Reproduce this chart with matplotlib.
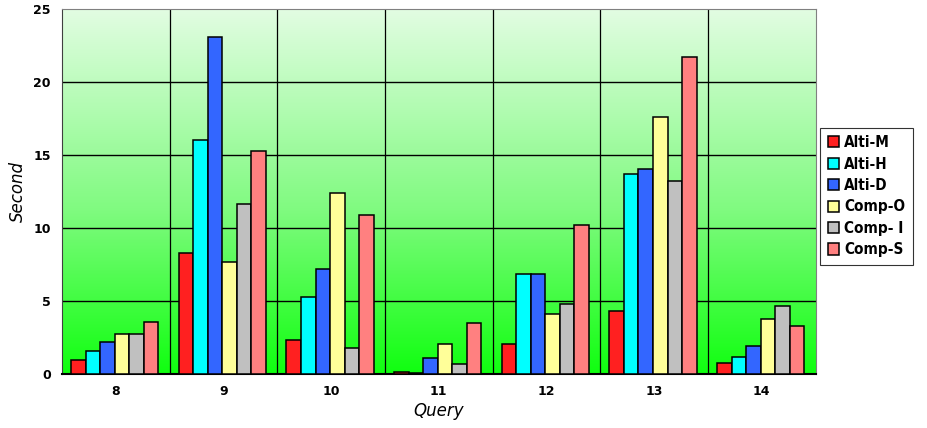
import numpy as np
import matplotlib.pyplot as plt
from matplotlib.colors import LinearSegmentedColormap

queries = ["8", "9", "10", "11", "12", "13", "14"]
series = ["Alti-M", "Alti-H", "Alti-D", "Comp-O", "Comp- I", "Comp-S"]

alti_m = [0.96, 8.28, 2.31, 0.16, 2.03, 4.30, 0.73]
alti_h = [1.55, 16.07, 5.30, 0.10, 6.88, 13.72, 1.17]
alti_d = [2.19, 23.11, 7.20, 1.07, 6.88, 14.06, 1.92]
comp_o = [2.72, 7.66, 12.41, 2.08, 4.09, 17.60, 3.75]
comp_i = [2.72, 11.66, 1.76, 0.69, 4.78, 13.21, 4.66]
comp_s = [3.54, 15.32, 10.88, 3.48, 10.20, 21.72, 3.27]

values = [alti_m, alti_h, alti_d, comp_o, comp_i, comp_s]
colors = ["#ff2020", "#00ffff", "#3366ff", "#ffff99", "#c0c0c0", "#ff8080"]

fig = plt.figure(figsize=(9.28, 4.28), dpi=100)
ax = fig.add_axes([0.0668, 0.126, 0.812, 0.852])

# green vertical gradient behind the bars
grad = LinearSegmentedColormap.from_list(
    "bg", [(0.0, "#10ff10"), (0.45, "#80fa80"), (1.0, "#e2fde2")])
ax.imshow(np.linspace(0, 1, 256).reshape(-1, 1), cmap=grad, aspect="auto",
          extent=[-0.5, len(queries) - 0.5, 0, 25], origin="lower", zorder=0)

x = np.arange(len(queries))
width = 0.135
for i, (vals, c, name) in enumerate(zip(values, colors, series)):
    ax.bar(x + (i - 2.5) * width - 0.01, vals, width, color=c, edgecolor="black",
           linewidth=1.1, label=name, zorder=3)

ax.set_xlim(-0.5, len(queries) - 0.5)
ax.set_ylim(0, 25)
ax.set_yticks([0, 5, 10, 15, 20, 25])
ax.set_xticks(x)
ax.set_xticklabels(queries)
for lab in ax.get_xticklabels() + ax.get_yticklabels():
    lab.set_fontweight("bold")
    lab.set_fontsize(9)
ax.tick_params(length=0, pad=8)

for v in [5, 10, 15, 20]:
    ax.axhline(v, color="black", linewidth=1, zorder=1)
for b in x[:-1] + 0.5:
    ax.axvline(b, color="black", linewidth=0.9, zorder=1)

for side in ["top", "right"]:
    ax.spines[side].set_color("#808080")
ax.spines["left"].set_color("#404040")
ax.spines["bottom"].set_linewidth(1.5)

ax.set_ylabel("Second", fontstyle="italic", fontsize=12, labelpad=5)
ax.set_xlabel("Query", fontstyle="italic", fontsize=12, labelpad=3)

leg = fig.legend(loc="upper left", bbox_to_anchor=(0.8836, 0.702), frameon=True,
                 fancybox=False, edgecolor="black", handlelength=0.75,
                 handleheight=0.75, handletextpad=0.35, labelspacing=0.42,
                 borderpad=0.5, borderaxespad=0,
                 prop={"family": "DejaVu Sans", "stretch": "condensed",
                       "weight": "bold", "size": 11})
leg.get_frame().set_linewidth(0.8)

fig.savefig("out.png", dpi=100)
